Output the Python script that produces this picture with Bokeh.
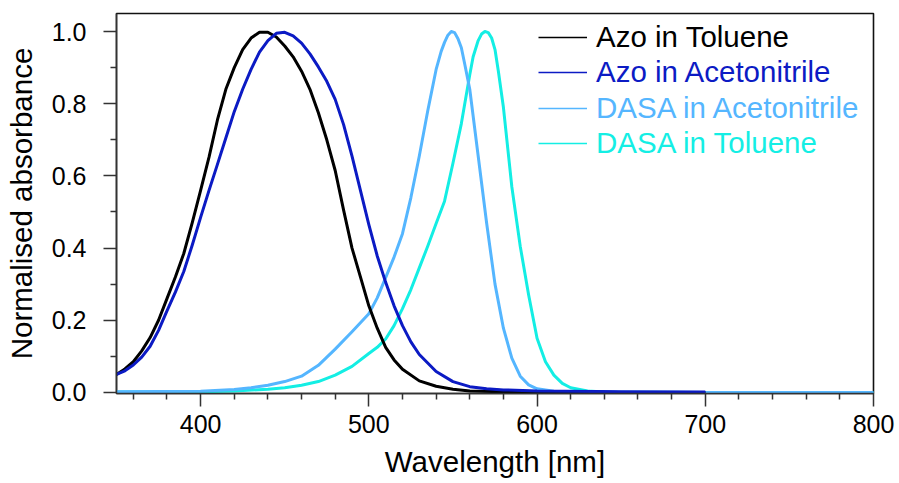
from bokeh.plotting import figure
from bokeh.models import Range1d, FixedTicker, PrintfTickFormatter, Legend, LegendItem
from bokeh.embed import file_html
from bokeh.resources import INLINE

# ---------------- data ----------------
series_names = ["Azo in Toluene", "Azo in Acetonitrile", "DASA in Acetonitrile", "DASA in Toluene"]
series_colors = ["#000000", "#0C1BC4", "#55B6FF", "#14EEE4"]

wl_azo_tol = [350, 355, 360, 365, 370, 375, 380, 385, 390, 395, 400, 405, 410, 415, 420,
              425, 430, 435, 440, 445, 450, 455, 460, 465, 470, 475, 480, 485, 490, 495,
              500, 505, 510, 515, 520, 530, 540, 550, 560, 580, 600, 650, 700]
abs_azo_tol = [0.050, 0.065, 0.085, 0.115, 0.152, 0.200, 0.260, 0.320, 0.385, 0.470, 0.560,
               0.652, 0.755, 0.840, 0.900, 0.950, 0.982, 0.998, 0.998, 0.985, 0.960, 0.930,
               0.890, 0.840, 0.775, 0.700, 0.615, 0.505, 0.400, 0.320, 0.240, 0.178, 0.125,
               0.090, 0.064, 0.032, 0.017, 0.009, 0.004, 0.002, 0.001, 0.000, 0.000]

wl_azo_acn = [350, 355, 360, 365, 370, 375, 380, 385, 390, 395, 400, 405, 410, 415, 420,
              425, 430, 435, 440, 445, 450, 455, 460, 465, 470, 475, 480, 485, 490, 495,
              500, 505, 510, 515, 520, 525, 530, 540, 550, 560, 570, 580, 600, 650, 700]
abs_azo_acn = [0.050, 0.060, 0.076, 0.098, 0.128, 0.172, 0.226, 0.278, 0.335, 0.408, 0.485,
               0.560, 0.632, 0.705, 0.778, 0.840, 0.895, 0.943, 0.975, 0.995, 0.998, 0.988,
               0.968, 0.938, 0.902, 0.862, 0.812, 0.742, 0.655, 0.560, 0.465, 0.378, 0.305,
               0.240, 0.185, 0.140, 0.105, 0.058, 0.030, 0.016, 0.010, 0.007, 0.004, 0.002,
               0.001]

wl_dasa_acn = [350, 400, 420, 430, 440, 450, 460, 470, 480, 490, 500, 505, 510, 515, 520,
               525, 530, 535, 540, 543, 545, 547, 549, 551, 553, 555, 557, 560, 565, 570,
               575, 580, 585, 590, 595, 600, 610, 620, 650, 700, 800]
abs_dasa_acn = [0.002, 0.003, 0.008, 0.013, 0.020, 0.030, 0.045, 0.075, 0.120, 0.168, 0.218,
                0.262, 0.318, 0.375, 0.440, 0.540, 0.655, 0.780, 0.895, 0.945, 0.970, 0.990,
                1.000, 0.997, 0.980, 0.955, 0.910, 0.840, 0.655, 0.470, 0.300, 0.178, 0.095,
                0.045, 0.021, 0.010, 0.003, 0.001, 0.000, 0.000, 0.000]

wl_dasa_tol = [350, 400, 420, 440, 450, 460, 470, 480, 490, 500, 505, 510, 515, 520, 525,
               530, 535, 540, 545, 550, 555, 560, 562, 565, 567, 569, 571, 573, 575, 577,
               580, 585, 590, 595, 600, 605, 610, 615, 620, 630, 640, 700, 800]
abs_dasa_tol = [0.001, 0.002, 0.004, 0.009, 0.013, 0.020, 0.030, 0.048, 0.072, 0.108, 0.125,
                0.148, 0.185, 0.232, 0.285, 0.345, 0.405, 0.468, 0.530, 0.635, 0.745, 0.880,
                0.930, 0.975, 0.993, 1.000, 0.997, 0.982, 0.950, 0.890, 0.790, 0.570, 0.405,
                0.270, 0.150, 0.085, 0.048, 0.025, 0.013, 0.004, 0.001, 0.000, 0.000]

x_major_ticks = [400, 500, 600, 700, 800]
x_minor_ticks = [360, 380, 420, 440, 460, 480, 520, 540, 560, 580, 620, 640, 660, 680,
                 720, 740, 760, 780]
y_major_ticks = [0.0, 0.2, 0.4, 0.6, 0.8, 1.0]
y_minor_ticks = [0.1, 0.3, 0.5, 0.7, 0.9]

# ---------------- figure ----------------
FONT = "Liberation Sans"
p = figure(width=899, height=483, output_backend="svg", toolbar_location=None,
           x_range=Range1d(350, 800), y_range=Range1d(-0.003, 1.05),
           min_border_left=116, min_border_right=26, min_border_top=13, min_border_bottom=90)
p.background_fill_color = "white"
p.border_fill_color = "white"
p.outline_line_color = "#111111"
p.outline_line_width = 1.6
p.grid.visible = False

p.xaxis.ticker = FixedTicker(ticks=x_major_ticks, minor_ticks=x_minor_ticks)
p.yaxis.ticker = FixedTicker(ticks=y_major_ticks, minor_ticks=y_minor_ticks)
p.yaxis.formatter = PrintfTickFormatter(format="%.1f")
p.xaxis.axis_label = "Wavelength [nm]"
p.yaxis.axis_label = "Normalised absorbance"

for ax in (p.xaxis, p.yaxis):
    ax.axis_line_color = "#333333"
    ax.axis_line_width = 1.5
    ax.major_tick_line_color = "#333333"
    ax.minor_tick_line_color = "#333333"
    ax.major_tick_line_width = 1.5
    ax.minor_tick_line_width = 1.5
    ax.major_tick_out = 13
    ax.major_tick_in = 0
    ax.minor_tick_out = 6
    ax.minor_tick_in = 0
    ax.major_label_text_font = FONT
    ax.major_label_text_font_size = "25px"
    ax.major_label_text_color = "black"
    ax.axis_label_text_font = FONT
    ax.axis_label_text_font_size = "29.5px"
    ax.axis_label_text_font_style = "normal"
    ax.axis_label_text_color = "black"

p.xaxis.major_label_standoff = 8
p.xaxis.axis_label_standoff = 9
p.yaxis.major_label_standoff = 17
p.yaxis.axis_label_standoff = 11

xs = [wl_azo_tol, wl_azo_acn, wl_dasa_acn, wl_dasa_tol]
ys = [abs_azo_tol, abs_azo_acn, abs_dasa_acn, abs_dasa_tol]

renderers = {}
draw_order = [3, 2, 0, 1]
for i in draw_order:
    c = series_colors[i]
    p.line(xs[i], ys[i], line_color=c, line_width=3.0, line_join="round")
    thin = p.line(xs[i], ys[i], line_color=c, line_width=1.4, line_join="round")
    renderers[i] = [thin]

# one small legend per series so that every label has the series colour
row_bottoms = [339, 304, 268, 233]
for i, name in enumerate(series_names):
    leg = Legend(items=[LegendItem(label=name, renderers=renderers[i])],
                 location=(422, row_bottoms[i]),
                 glyph_width=49, glyph_height=34, label_height=34, label_standoff=9,
                 padding=0, margin=0, spacing=0,
                 border_line_alpha=0, background_fill_alpha=0,
                 label_text_font=FONT, label_text_font_size="29.5px",
                 label_text_color=series_colors[i])
    p.add_layout(leg)

open("out.html", "w").write(file_html(p, INLINE))
